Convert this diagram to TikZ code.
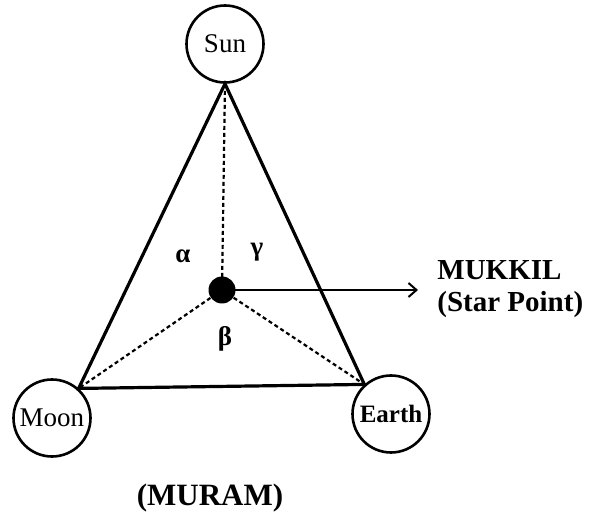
\documentclass[tikz,border=0pt]{standalone}
\usepackage{fontspec}
\setmainfont{Liberation Serif}
\usetikzlibrary{arrows.meta}
\tikzset{every picture/.style={line width=0.75pt}}
\tikzset{
  body/.style={draw, circle, line width=2.6pt, minimum size=77pt, inner sep=0pt, font=\fontsize{27}{29}\selectfont},
  side/.style={line width=3.2pt},
  hidden/.style={line width=2.2pt, dash pattern=on 4pt off 3pt},
  greek/.style={font=\fontsize{27}{29}\selectfont\bfseries},
}
\begin{document}
\begin{tikzpicture}[x=1pt,y=1pt,yscale=-1,xscale=1]
\useasboundingbox (0,0) rectangle (589,518);

%Shape: Circle
\node [body] (sun) at (225,44) {Sun};
%Shape: Circle
\node [body] (moon) at (52,418) {Moon};
%Shape: Circle
\node [body, font=\fontsize{25}{27}\selectfont\bfseries] (earth) at (391,414) {Earth};
%Shape: Dot
\node [circle, fill, minimum size=27pt, inner sep=0pt] (star) at (222,290) {};
\coordinate (tip) at (418,290);

%Straight Lines
\draw [side] (sun.south) -- (moon.48) -- (earth.132) -- cycle;
%Straight Lines
\draw [hidden] (sun.south) -- (star.center);
\draw [hidden] (star.center) -- (moon.48);
\draw [hidden] (star.center) -- (earth.132);
%Straight Lines
\draw [line width=2pt, -{Straight Barb[length=8pt,width=14pt]}] (star.center) -- (tip);

% Text Node
\node [greek] (alpha) at (183,256) {α};
% Text Node
\node [greek] (gamma) at (257,252) {γ};
% Text Node
\node [greek] (beta) at (225,339) {β};
% Text Node
\node [anchor=west, align=left, inner sep=0pt, font=\fontsize{29}{32}\selectfont\bfseries] (mukkil) at (437,289) {MUKKIL\\(Star Point)};
% Text Node
\node [inner sep=0pt, font=\fontsize{31}{34}\selectfont\bfseries] (muram) at (210,498) {(MURAM)};

\end{tikzpicture}
\end{document}
